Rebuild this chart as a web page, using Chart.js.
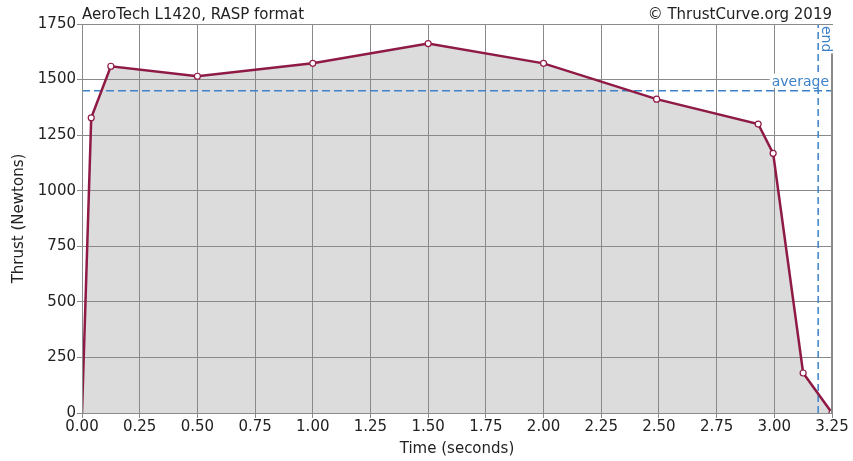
<!DOCTYPE html>
<html><head><meta charset="utf-8">
<script src="https://cdn.jsdelivr.net/npm/chart.js@4/dist/chart.umd.min.js"></script>
<style>html,body{margin:0;padding:0;background:#fff}#wrap{width:853px;height:461px}</style>
</head><body><div id="wrap"><canvas id="c" width="853" height="461"></canvas></div>
<script>
const timeValues = [0.0, 0.04, 0.125, 0.5, 1.0, 1.5, 2.0, 2.49, 2.93, 2.995, 3.125, 3.25];
const thrustValues = [0, 1328, 1560, 1515, 1573, 1662, 1573, 1412, 1300, 1168, 180, 0];
const averageThrust = 1450;
const burnEnd = 3.19;
const xTicks = ["0.00","0.25","0.50","0.75","1.00","1.25","1.50","1.75","2.00","2.25","2.50","2.75","3.00","3.25"];
const yTicks = [0, 250, 500, 750, 1000, 1250, 1500, 1750];
const titleText = "AeroTech L1420, RASP format";
const creditText = "\u00A9 ThrustCurve.org 2019";

const FONT = "'DejaVu Sans', sans-serif";
const BLUE = '#3d82c8';
const LINE = '#8e1a45';
const GRID = '#8a8a8a';
const TEXT = '#222';

const textPlugin = {
  id: 'texts',
  afterDatasetsDraw(chart) {
    const {ctx, chartArea: a, scales} = chart;
    ctx.save();
    ctx.strokeStyle = GRID; ctx.lineWidth = 1;
    ctx.strokeRect(a.left + 0.5, a.top + 0.5, a.right - a.left - 1, a.bottom - a.top);
    ctx.font = '15px ' + FONT;
    ctx.fillStyle = TEXT;
    ctx.textBaseline = 'alphabetic';
    ctx.textAlign = 'left';
    ctx.fillText(titleText, a.left, a.top - 5);
    ctx.textAlign = 'right';
    ctx.fillText(creditText, a.right, a.top - 5);
    const yAvg = scales.y.getPixelForValue(averageThrust);
    ctx.font = '14px ' + FONT;
    const w = ctx.measureText('average').width;
    const xr = a.right - 3;
    ctx.fillStyle = '#fff';
    ctx.fillRect(xr - w - 2, yAvg - 17, w + 4, 14);
    ctx.fillStyle = BLUE;
    ctx.textAlign = 'right';
    ctx.fillText('average', xr, yAvg - 5);
    const xEnd = scales.x.getPixelForValue(burnEnd);
    ctx.translate(xEnd + 2, a.top + 1);
    ctx.rotate(Math.PI / 2);
    const we = ctx.measureText('end').width;
    ctx.fillStyle = '#fff';
    ctx.fillRect(0, -13, we + 2, 14);
    ctx.fillStyle = BLUE;
    ctx.textAlign = 'left';
    ctx.fillText('end', 1, -2);
    ctx.restore();
  }
};

new Chart(document.getElementById('c'), {
  type: 'scatter',
  data: {
    datasets: [
      {
        data: [{x: 0, y: averageThrust}, {x: 3.25, y: averageThrust}],
        showLine: true, borderColor: BLUE, borderWidth: 1.5, borderDash: [8, 4],
        pointRadius: 0, fill: false, order: 1
      },
      {
        data: [{x: burnEnd, y: 0}, {x: burnEnd, y: 1750}],
        showLine: true, borderColor: BLUE, borderWidth: 1.5, borderDash: [7, 4],
        pointRadius: 0, fill: false, order: 1
      },
      {
        data: timeValues.map((t, i) => ({x: t, y: thrustValues[i]})),
        showLine: true, borderColor: LINE, borderWidth: 2.5,
        backgroundColor: '#dcdcdc', fill: 'origin',
        pointRadius: timeValues.map((t, i) => i === 0 ? 0 : 3),
        pointBackgroundColor: '#fff', pointBorderColor: LINE, pointBorderWidth: 1.2,
        order: 0
      }
    ]
  },
  options: {
    responsive: false, animation: false,
    layout: {padding: {top: 24, right: 21, left: 10, bottom: 0}},
    plugins: {legend: {display: false}, tooltip: {enabled: false}, title: {display: false},
      filler: {drawTime: 'beforeDraw'}},
    scales: {
      x: {
        type: 'linear', min: 0, max: 3.25,
        afterBuildTicks(s) { s.ticks = xTicks.map(v => ({value: parseFloat(v)})); },
        afterFit(s) { s.height = 48; },
        grid: {color: GRID, lineWidth: 1, tickLength: 5, drawTicks: true},
        border: {display: false},
        ticks: {font: {family: FONT, size: 15}, color: TEXT, padding: 0, maxRotation: 0,
          callback: (v, i) => xTicks[i]},
        title: {display: true, text: 'Time (seconds)', font: {family: FONT, size: 15}, color: TEXT, padding: {top: 0, bottom: 3}}
      },
      y: {
        type: 'linear', min: 0, max: 1750,
        afterBuildTicks(s) { s.ticks = yTicks.map(v => ({value: v})); },
        afterFit(s) { s.width = 72; },
        grid: {color: GRID, lineWidth: 1, tickLength: 5, drawTicks: true},
        border: {display: false},
        ticks: {font: {family: FONT, size: 15}, color: TEXT, padding: 1,
          callback: v => String(v)},
        title: {display: true, text: 'Thrust (Newtons)', font: {family: FONT, size: 15}, color: TEXT, padding: {top: 0, bottom: 2}}
      }
    }
  },
  plugins: [textPlugin]
});
</script></body></html>
